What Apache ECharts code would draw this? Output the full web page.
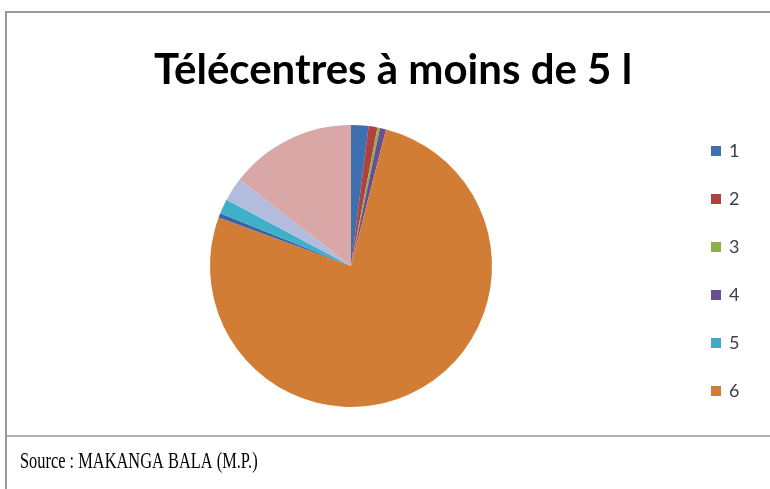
<!DOCTYPE html>
<html>
<head>
<meta charset="utf-8">
<script src="https://cdn.jsdelivr.net/npm/echarts@6/dist/echarts.min.js"></script>
<style>
  html, body { margin: 0; padding: 0; background: #fff; }
  #chart { width: 770px; height: 489px; }
</style>
</head>
<body>
<div id="chart"></div>
<script>
  // categories and shares (in %)
  const categories = ['1', '2', '3', '4', '5', '6', '7', '8', '9', '10']
  const values = [2.0, 1.0, 0.3, 0.7, 0, 76.6, 0.5, 1.7, 2.7, 14.5]
  const colors = ['#3E6FB0', '#B0413E', '#8CB04C', '#6A4E94', '#3FA8C4', '#D27D36',
                  '#3A64A8', '#3FB0C8', '#B4BCDD', '#D8A7A6']
  const legendShown = ['1', '2', '3', '4', '5', '6']

  const chart = echarts.init(document.getElementById('chart'))

  const option = {
    animation: false,
    color: colors,
    title: {
      text: 'Télécentres à moins de 5 l',
      left: 388,
      textAlign: 'center',
      top: 44,
      textStyle: {
        fontFamily: 'Lato',
        fontWeight: 'bold',
        fontSize: 42,
        color: '#000'
      }
    },
    legend: {
      orient: 'vertical',
      left: 706,
      top: 137,
      itemWidth: 10,
      itemHeight: 10,
      itemGap: 30,
      icon: 'rect',
      data: legendShown,
      selectedMode: false,
      textStyle: {
        fontFamily: 'Lato',
        fontSize: 18,
        color: '#404040',
        padding: [0, 0, 0, 3]
      }
    },
    series: [{
      type: 'pie',
      center: [351, 266],
      radius: 141,
      startAngle: 90,
      clockwise: true,
      minAngle: 0,
      label: { show: false },
      labelLine: { show: false },
      itemStyle: { borderWidth: 0 },
      emphasis: { disabled: true },
      data: categories.map((c, i) => ({ name: c, value: values[i] }))
    }],
    graphic: [
      { type: 'rect', shape: { x: 6, y: 12, width: 770, height: 490 },
        style: { fill: 'none', stroke: '#9a9a9a', lineWidth: 2 } },
      { type: 'line', shape: { x1: 7, y1: 436, x2: 770, y2: 436 },
        style: { stroke: '#b0b0b0', lineWidth: 2 } },
      { type: 'text', x: 20, y: 451, scaleY: 1.4,
        style: { text: 'Source : MAKANGA BALA (M.P.)', font: '16.4px "Liberation Serif"', fill: '#000' } }
    ]
  }

  chart.setOption(option)
</script>
</body>
</html>
